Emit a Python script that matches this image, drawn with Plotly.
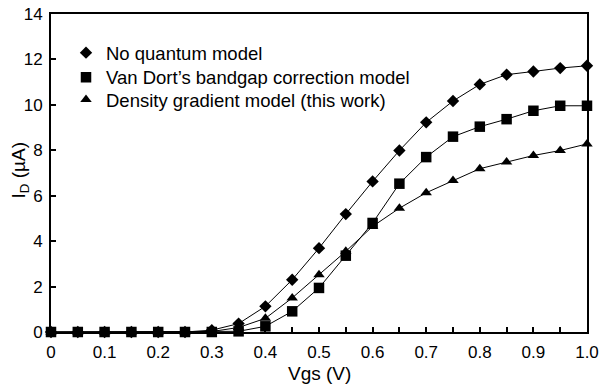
import plotly.graph_objects as go

vgs = [0, 0.05, 0.1, 0.15, 0.2, 0.25, 0.3, 0.35, 0.4, 0.45, 0.5,
       0.55, 0.6, 0.65, 0.7, 0.75, 0.8, 0.85, 0.9, 0.95, 1.0]
no_quantum = [0, 0, 0, 0, 0, 0, 0.08, 0.37, 1.13, 2.30, 3.69,
              5.19, 6.63, 7.99, 9.23, 10.17, 10.9, 11.33, 11.47, 11.62, 11.72]
van_dort = [0, 0, 0, 0, 0, 0, 0, 0.03, 0.25, 0.91, 1.94,
            3.36, 4.8, 6.53, 7.7, 8.6, 9.04, 9.37, 9.74, 9.96, 9.96]
density = [0, 0, 0, 0, 0, 0, 0.02, 0.2, 0.6, 1.5, 2.52,
           3.55, 4.65, 5.45, 6.13, 6.67, 7.19, 7.48, 7.77, 7.99, 8.28]

series_names = ["No quantum model",
                "Van Dort\u2019s bandgap correction model",
                "Density gradient model (this work)"]
series_values = [no_quantum, van_dort, density]
symbols = ["diamond", "square", "triangle-up"]
sizes = [9.5, 10.5, 10]

x_tickvals = [0, 0.1, 0.2, 0.3, 0.4, 0.5, 0.6, 0.7, 0.8, 0.9, 1.0]
x_ticktext = ["0", "0.1", "0.2", "0.3", "0.4", "0.5", "0.6", "0.7", "0.8", "0.9", "1.0"]
y_tickvals = [0, 2, 4, 6, 8, 10, 12, 14]
x_title = "Vgs (V)"
y_title = "I<sub>D</sub> (\u00b5A)"

FONT = "Liberation Sans, Arial, sans-serif"

fig = go.Figure()
for name, vals, sym, sz in zip(series_names, series_values, symbols, sizes):
    fig.add_trace(go.Scatter(
        x=vgs, y=vals, mode="lines+markers", showlegend=False,
        line=dict(color="black", width=1),
        marker=dict(symbol=sym, size=sz, color="black"),
        cliponaxis=False,
    ))

legend_ids = ["legend", "legend2", "legend3"]
legend_rows = [0.877, 0.800, 0.730]
for name, sym, sz, lid in zip(series_names, symbols, sizes, legend_ids):
    fig.add_trace(go.Scatter(
        x=[None], y=[None], mode="markers", name=name, legend=lid,
        marker=dict(symbol=sym, size=sz, color="black"),
    ))

legend_style = dict(x=0.028, xanchor="left", yanchor="middle",
                    bgcolor="rgba(0,0,0,0)", font=dict(size=18.5),
                    itemwidth=30)
layout_legends = {lid: dict(y=ly, **legend_style) for lid, ly in zip(legend_ids, legend_rows)}

fig.update_layout(
    width=607, height=387,
    margin=dict(l=51, r=20, t=14, b=55, autoexpand=False),
    paper_bgcolor="white", plot_bgcolor="white",
    font=dict(family=FONT, color="black", size=17),
    showlegend=True,
    **layout_legends,
)
fig.update_xaxes(
    range=[0, 1.0], tickvals=x_tickvals, ticktext=x_ticktext,
    ticks="inside", ticklen=5, tickwidth=1.5, tickcolor="black",
    ticklabelstandoff=4, automargin=False,
    minor=dict(dtick=0.05, ticks="inside", ticklen=5, tickwidth=1.5, tickcolor="black"),
    showline=True, linecolor="black", linewidth=2, mirror=True,
    showgrid=False, zeroline=False,
)
fig.update_yaxes(
    range=[0, 14], tickvals=y_tickvals,
    ticks="inside", ticklen=5, tickwidth=1.5, tickcolor="black",
    ticklabelstandoff=3, automargin=False,
    showline=True, linecolor="black", linewidth=2, mirror=True,
    showgrid=False, zeroline=False,
)
fig.add_annotation(text=x_title, xref="paper", yref="paper", x=0.5, y=-0.131,
                   xanchor="center", yanchor="middle", showarrow=False,
                   font=dict(size=19))
fig.add_annotation(text=y_title, xref="paper", yref="paper", x=-0.0578, y=0.508,
                   xanchor="center", yanchor="middle", showarrow=False,
                   textangle=-90, font=dict(size=19))

fig.write_html("out.html")
